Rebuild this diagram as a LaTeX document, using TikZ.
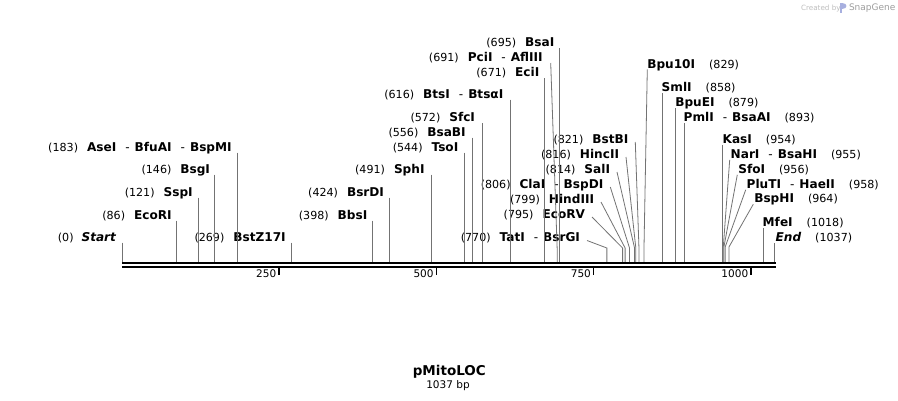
\documentclass[tikz,border=0pt]{standalone}
\usepackage{fontspec}
\setmainfont{DejaVu Sans}
\usetikzlibrary{calc}
\newcommand\enzname[1]{{\fontsize{12.1}{14}\selectfont\bfseries #1}}
\newcommand\enznum[1]{{\fontsize{11.1}{14}\selectfont #1}}
\newcommand\enzdash{\hspace{9pt}{\mdseries -}\hspace{5pt}}
\newcommand\bpx[1]{122.3+0.6293*#1}
\tikzset{
 lbl/.style={inner sep=0pt, outer sep=0pt},
 lft/.style={lbl, anchor=base east},
 rgt/.style={lbl, anchor=base west},
 conn/.style={draw=black!55, line width=0.8pt},
 seqline/.style={draw=black, line width=2.2pt},
 tickmark/.style={draw=black, line width=1.4pt},
}
\begin{document}
\begin{tikzpicture}[x=1pt,y=-1pt]
\fill[white] (0,0) rectangle (898,400);
\useasboundingbox (0,0) rectangle (898,400);

% cut-site coordinates on the sequence line
\foreach \b in {0,86,121,146,183,269,398,424,491,544,556,572,616,671,691,695,770,795,799,806,814,816,821,829,858,879,893,954,955,956,958,964,1018,1037}
  {\coordinate (c\b) at ({\bpx{\b}},262);}

% ---------- left-labelled sites ----------
\node[lft] (l0)   at (116,241)   {\enznum{(0)}\hspace{8pt}\enzname{\itshape Start}};
\node[lft] (l86)  at (171.7,219) {\enznum{(86)}\hspace{9pt}\enzname{EcoRI}};
\node[lft] (l121) at (192.7,196) {\enznum{(121)}\hspace{9pt}\enzname{SspI}};
\node[lft] (l146) at (210,173)   {\enznum{(146)}\hspace{9pt}\enzname{BsgI}};
\node[lft] (l183) at (231.7,151) {\enznum{(183)}\hspace{9pt}\enzname{AseI\enzdash BfuAI\enzdash BspMI}};
\node[lft] (l269) at (285.7,241) {\enznum{(269)}\hspace{9pt}\enzname{BstZ17I}};
\node[lft] (l398) at (367.3,219) {\enznum{(398)}\hspace{9pt}\enzname{BbsI}};
\node[lft] (l424) at (384,196)   {\enznum{(424)}\hspace{9pt}\enzname{BsrDI}};
\node[lft] (l491) at (424.5,173) {\enznum{(491)}\hspace{9pt}\enzname{SphI}};
\node[lft] (l544) at (458.3,151) {\enznum{(544)}\hspace{9pt}\enzname{TsoI}};
\node[lft] (l556) at (465.7,136) {\enznum{(556)}\hspace{9pt}\enzname{BsaBI}};
\node[lft] (l572) at (475,121.5) {\enznum{(572)}\hspace{9pt}\enzname{SfcI}};
\node[lft] (l616) at (503.3,98)  {\enznum{(616)}\hspace{9pt}\enzname{BtsI\enzdash BtsαI}};
\node[lft] (l671) at (539.3,76.7){\enznum{(671)}\hspace{9pt}\enzname{EciI}};
\node[lft] (l691) at (542.7,61)  {\enznum{(691)}\hspace{9pt}\enzname{PciI\enzdash AflIII}};
\node[lft] (l695) at (554.3,46.5){\enznum{(695)}\hspace{9pt}\enzname{BsaI}};
\node[lft] (l770) at (580,241.5) {\enznum{(770)}\hspace{9pt}\enzname{TatI\enzdash BsrGI}};
\node[lft] (l795) at (585,218)   {\enznum{(795)}\hspace{9pt}\enzname{EcoRV}};
\node[lft] (l799) at (594,203)   {\enznum{(799)}\hspace{9pt}\enzname{HindIII}};
\node[lft] (l806) at (603.3,188) {\enznum{(806)}\hspace{9pt}\enzname{ClaI\enzdash BspDI}};
\node[lft] (l814) at (610,173)   {\enznum{(814)}\hspace{9pt}\enzname{SalI}};
\node[lft] (l816) at (619,158)   {\enznum{(816)}\hspace{9pt}\enzname{HincII}};
\node[lft] (l821) at (628.3,143) {\enznum{(821)}\hspace{9pt}\enzname{BstBI}};

% ---------- right-labelled sites ----------
\node[rgt] (l829)  at (647.3,68.3)  {\enzname{Bpu10I}\hspace{14pt}\enznum{(829)}};
\node[rgt] (l858)  at (661.7,91.7)  {\enzname{SmlI}\hspace{14pt}\enznum{(858)}};
\node[rgt] (l879)  at (675.3,106.7) {\enzname{BpuEI}\hspace{14pt}\enznum{(879)}};
\node[rgt] (l893)  at (683.7,121.7) {\enzname{PmlI\enzdash BsaAI}\hspace{14pt}\enznum{(893)}};
\node[rgt] (l954)  at (722.7,143.3) {\enzname{KasI}\hspace{14pt}\enznum{(954)}};
\node[rgt] (l955)  at (730.7,158.3) {\enzname{NarI\enzdash BsaHI}\hspace{14pt}\enznum{(955)}};
\node[rgt] (l956)  at (738.3,173.3) {\enzname{SfoI}\hspace{14pt}\enznum{(956)}};
\node[rgt] (l958)  at (746.7,188.3) {\enzname{PluTI\enzdash HaeII}\hspace{14pt}\enznum{(958)}};
\node[rgt] (l964)  at (754.3,202.7) {\enzname{BspHI}\hspace{14pt}\enznum{(964)}};
\node[rgt] (l1018) at (762.7,226.7) {\enzname{MfeI}\hspace{14pt}\enznum{(1018)}};
\node[rgt] (l1037) at (775.7,241.7) {\enzname{\itshape End}\hspace{14pt}\enznum{(1037)}};

% ---------- connectors: vertical ----------
\foreach \b in {0,86,121,146,183,269,398,424,491,544,556,572,616,671,695,858,879,893,954,1018,1037}
  {\draw[conn] ($(c\b |- l\b.base)+(0,1.5)$) -- (c\b);}
% ---------- connectors: slanted, left labels ----------
\draw[conn] ($(l691.base east)+(8,2)$) -- ($(c691)+(0,-14)$) -- (c691);
\foreach \b in {770,795,799,806,814,816,821}
  {\draw[conn] ($(l\b.base east)+(7,-1)$) -- ($(c\b)+(0,-14)$) -- (c\b);}
% ---------- connectors: slanted, right labels ----------
\draw[conn] ($(l829.base west)+(0,1)$) -- ($(c829)+(0,-14)$) -- (c829);
\foreach \b in {955,956,958,964}
  {\draw[conn] ($(l\b.base west)+(-1,1.5)$) -- ($(c\b)+(0,-15)$) -- (c\b);}

% ---------- sequence ----------
\coordinate (sA) at (122,262.8);
\coordinate (sB) at (776,262.8);
\coordinate (sC) at (122,266.7);
\coordinate (sD) at (776,266.7);
\draw[seqline] (sA) -- (sB);
\draw[seqline] (sC) -- (sD);

% ---------- ticks ----------
\foreach \t in {250,500,750,1000}{
  \coordinate (tk\t) at ({\bpx{\t}-0.6},267.5);
  \draw[tickmark] (tk\t) -- ++(0,7.5);
  \node[lft] (tl\t) at ($(tk\t)+(-2.8,9.5)$) {\fontsize{10.5}{12}\selectfont \t};
}

% ---------- title ----------
\node[lbl, anchor=base] (title) at (449.3,375) {\fontsize{13.5}{16}\selectfont\bfseries pMitoLOC};
\node[lbl, anchor=base] (size) at (448,388) {\fontsize{10.5}{12}\selectfont 1037 bp};

% ---------- watermark ----------
\node[lbl, anchor=base west, text=black!25] (wm1) at (801,10.3) {\fontsize{7.2}{8}\selectfont Created by};
\fill[cyan!30!blue!35] (839.5,3) rectangle (842.3,12.5);
\fill[cyan!30!blue!35] (842.3,3) .. controls (847.5,3) and (847.5,9.3) .. (842.3,9.3) -- cycle;
\node[lbl, anchor=base west, text=black!38] (wm2) at (849,10.8) {\fontsize{9}{10}\selectfont SnapGene};
\end{tikzpicture}
\end{document}
